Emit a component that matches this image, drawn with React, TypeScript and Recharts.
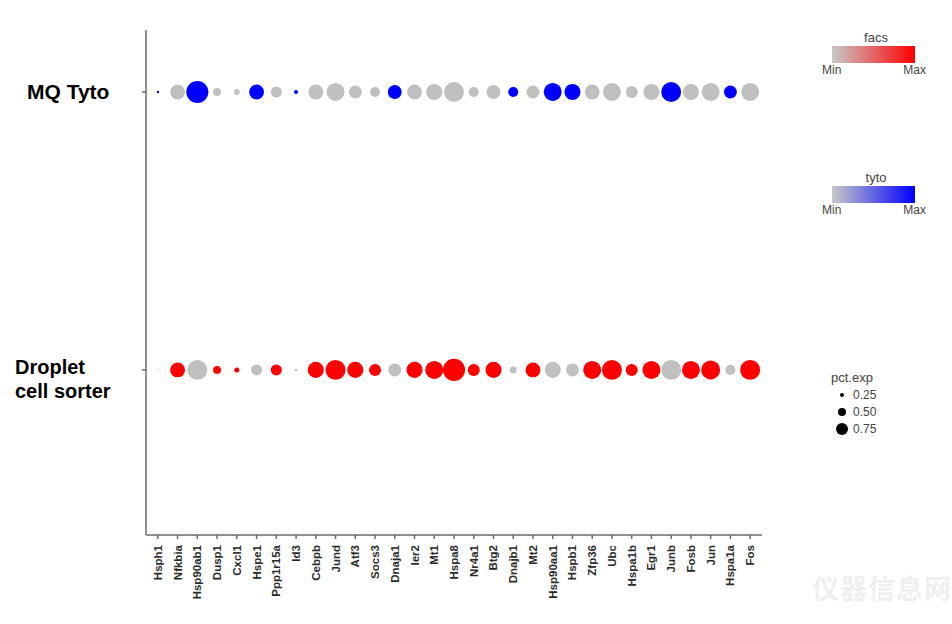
import React from "react";
import { ScatterChart, Scatter, XAxis, YAxis } from "recharts";

const genes = [
  "Hsph1", "Nfkbia", "Hsp90ab1", "Dusp1", "Cxcl1", "Hspe1", "Ppp1r15a", "Id3",
  "Cebpb", "Jund", "Atf3", "Socs3", "Dnaja1", "Ier2", "Mt1", "Hspa8", "Nr4a1",
  "Btg2", "Dnajb1", "Mt2", "Hsp90aa1", "Hspb1", "Zfp36", "Ubc", "Hspa1b",
  "Egr1", "Junb", "Fosb", "Jun", "Hspa1a", "Fos",
];

// percent of cells expressing (dot size)
const tytoPct = [
  0.1, 0.62, 0.92, 0.33, 0.25, 0.62, 0.46, 0.17, 0.62, 0.75, 0.54, 0.42, 0.58,
  0.62, 0.67, 0.83, 0.42, 0.58, 0.42, 0.54, 0.75, 0.67, 0.62, 0.75, 0.5, 0.67,
  0.83, 0.67, 0.75, 0.54, 0.75,
];
const facsPct = [
  0.06, 0.62, 0.83, 0.33, 0.21, 0.46, 0.46, 0.1, 0.67, 0.83, 0.67, 0.5, 0.54,
  0.67, 0.75, 0.92, 0.5, 0.67, 0.29, 0.62, 0.67, 0.54, 0.75, 0.83, 0.5, 0.75,
  0.83, 0.75, 0.79, 0.42, 0.83,
];

// scaled average expression (dot colour, 0 = min, 1 = max)
const tytoExp = [
  1, 0, 1, 0, 0, 1, 0, 1, 0, 0, 0, 0, 1, 0, 0, 0, 0, 0, 1, 0, 1, 1, 0, 0, 0, 0,
  1, 0, 0, 1, 0,
];
const facsExp = [
  0, 1, 0, 1, 1, 0, 1, 0, 1, 1, 1, 1, 0, 1, 1, 1, 1, 1, 0, 1, 0, 0, 1, 1, 1, 1,
  0, 1, 1, 0, 1,
];

const rowLabels = ["MQ Tyto", "Droplet cell sorter"];
const sizeLegend = [0.25, 0.5, 0.75];

const GREY = [192, 192, 192];
const mix = (to: number[], t: number) => {
  const c = GREY.map((g, i) => Math.round(g + (to[i] - g) * t));
  return `rgb(${c[0]},${c[1]},${c[2]})`;
};

const tytoData = genes.map((g, i) => ({
  x: i,
  y: 2,
  pct: tytoPct[i],
  color: mix([0, 0, 255], tytoExp[i]),
}));
const facsData = genes.map((g, i) => ({
  x: i,
  y: 1,
  pct: facsPct[i],
  color: mix([255, 0, 0], facsExp[i]),
}));

const Dot = (props: any) => {
  const { cx, cy, payload } = props;
  if (cx == null || cy == null) return null;
  return <circle cx={cx} cy={cy} r={payload.pct * 12} fill={payload.color} />;
};

const GeneTick = (props: any) => {
  const { x, y, payload } = props;
  return (
    <g transform={`translate(${x},${y})`}>
      <text
        transform="rotate(-90)"
        x={-4}
        y={0}
        dy={4}
        textAnchor="end"
        fontSize={11.5}
        fontWeight={600}
        fill="#2a2a2a"
        fontFamily="Liberation Sans, Arial, sans-serif"
      >
        {genes[payload.value]}
      </text>
    </g>
  );
};

const font = "Liberation Sans, Arial, sans-serif";

const GradientLegend = ({ title, top, to }: { title: string; top: number; to: string }) => (
  <div style={{ position: "absolute", left: 822, top, width: 104, fontFamily: font, color: "#444" }}>
    <div style={{ textAlign: "center", fontSize: 13, lineHeight: "14px", paddingLeft: 4 }}>{title}</div>
    <div
      style={{
        marginLeft: 10,
        marginTop: 1,
        width: 83,
        height: 17,
        background: `linear-gradient(to right, #c8c8c8, ${to})`,
      }}
    />
    <div style={{ display: "flex", justifyContent: "space-between", fontSize: 12, lineHeight: "13px", marginTop: 1 }}>
      <span>Min</span>
      <span>Max</span>
    </div>
  </div>
);

export default function App() {
  return (
    <div
      style={{
        position: "absolute",
        left: 0,
        top: 0,
        width: 952,
        height: 624,
        background: "#fff",
        fontFamily: font,
      }}
    >
      <ScatterChart
        width={952}
        height={624}
        margin={{ top: 30, right: 190, bottom: 0, left: 136 }}
      >
        <XAxis
          type="number"
          dataKey="x"
          domain={[-0.6, 30.6]}
          ticks={genes.map((g, i) => i)}
          interval={0}
          height={89}
          tick={<GeneTick />}
          tickSize={4}
          stroke="#6b6b6b"
          strokeWidth={1.5}
        />
        <YAxis
          type="number"
          dataKey="y"
          domain={[0.406, 2.223]}
          ticks={[1, 2]}
          width={10}
          tickFormatter={() => ""}
          tickSize={4}
          stroke="#6b6b6b"
          strokeWidth={1.5}
        />
        <Scatter data={tytoData} shape={<Dot />} isAnimationActive={false} />
        <Scatter data={facsData} shape={<Dot />} isAnimationActive={false} />
      </ScatterChart>

      <div style={{ position: "absolute", left: 27, top: 80, fontSize: 21, fontWeight: 700, color: "#000", lineHeight: "24px" }}>
        {rowLabels[0]}
      </div>
      <div style={{ position: "absolute", left: 15, top: 355, width: 125, fontSize: 20, fontWeight: 700, color: "#000", lineHeight: "24px" }}>
        Droplet
        <br />
        cell sorter
      </div>

      <GradientLegend title="facs" top={31} to="#ff0000" />
      <GradientLegend title="tyto" top={171} to="#0000ff" />

      <div style={{ position: "absolute", left: 831, top: 370, fontFamily: font, color: "#444" }}>
        <div style={{ fontSize: 13, lineHeight: "16px" }}>pct.exp</div>
        {sizeLegend.map((v) => (
          <div key={v} style={{ display: "flex", alignItems: "center", height: 17 }}>
            <div style={{ width: 22, display: "flex", justifyContent: "center" }}>
              <div
                style={{
                  width: v * 16,
                  height: v * 16,
                  borderRadius: "50%",
                  background: "#000",
                }}
              />
            </div>
            <span style={{ fontSize: 12, marginLeft: 0 }}>{v.toFixed(2)}</span>
          </div>
        ))}
      </div>

      <div
        style={{
          position: "absolute",
          left: 812,
          top: 568,
          fontFamily: "Noto Sans CJK SC, sans-serif",
          fontSize: 27,
          fontWeight: 700,
          color: "#efefef",
          letterSpacing: 1,
        }}
      >
        仪器信息网
      </div>
    </div>
  );
}
